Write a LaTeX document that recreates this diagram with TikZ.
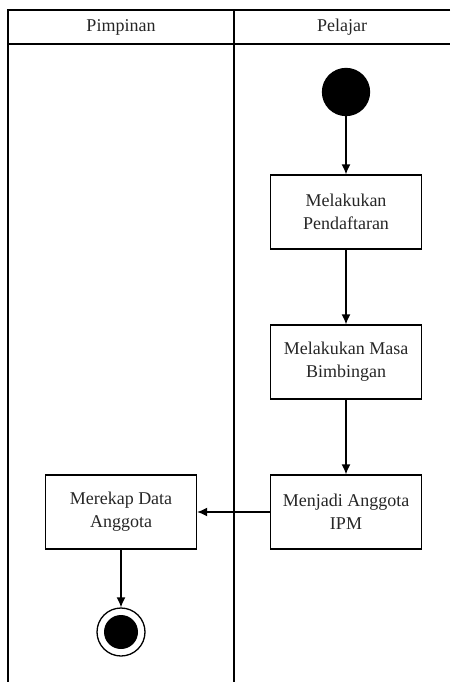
\documentclass[tikz,border=0pt]{standalone}
\usepackage{fontspec}
\setmainfont{Liberation Serif}
\usetikzlibrary{arrows.meta}

\begin{document}
\begin{tikzpicture}[x=1pt, y=-1pt, ->, >={Latex[length=10pt,width=9pt]}, line width=1.3pt, node distance=150pt,
  act/.style={draw, rectangle, minimum width=151pt, minimum height=74pt, align=center, text=black!85, font=\fontsize{18}{23}\selectfont},
  lane/.style={-, line width=1.5pt}]

\useasboundingbox (0,0) rectangle (450,682);

% swimlanes
\draw[lane] (450,10) -- (8,10) -- (8,682);
\draw[lane] (8,44) -- (450,44);
\draw[lane] (234,10) -- (234,682);
\node[font=\fontsize{18}{22}\selectfont, text=black!85] (pimpinan) at (121,27) {Pimpinan};
\node[font=\fontsize{18}{22}\selectfont, text=black!85] (pelajar) at (342,27) {Pelajar};

\node[draw, circle, fill=black, minimum size=47pt, inner sep=0pt] (start) at (346,92) {};
\node[act] (daftar) [below of=start, node distance=120pt] {Melakukan\\Pendaftaran};
\node[act] (bimbing) [below of=daftar] {Melakukan Masa\\Bimbingan};
\node[act] (anggota) [below of=bimbing] {Menjadi Anggota\\IPM};
\node[act] (rekap) [left of=anggota, node distance=225pt] {Merekap Data\\Anggota};
\node[draw, circle, minimum size=48pt, inner sep=0pt,
  path picture={\fill (path picture bounding box.center) circle (17pt);}] (end) [below of=rekap, node distance=120pt] {};

\path 	(start) 	edge (daftar)
	(daftar) 	edge (bimbing)
	(bimbing) 	edge (anggota)
	(anggota) 	edge (rekap)
	(rekap) 	edge (end)
	;

\end{tikzpicture}
\end{document}
